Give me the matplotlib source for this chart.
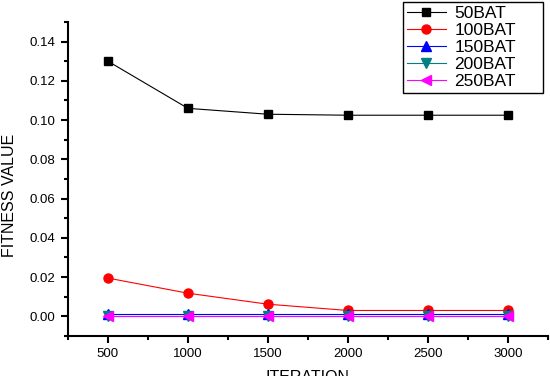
import matplotlib
matplotlib.use("Agg")
import matplotlib.pyplot as plt
from matplotlib.ticker import MultipleLocator

plt.rcParams['font.family'] = ['Liberation Sans', 'DejaVu Sans']

iterations = [500, 1000, 1500, 2000, 2500, 3000]
bat50 = [0.130, 0.106, 0.103, 0.1025, 0.1025, 0.1025]
bat100 = [0.0195, 0.0118, 0.0062, 0.0030, 0.0030, 0.0030]
bat150 = [0.0012, 0.0012, 0.0012, 0.0012, 0.0012, 0.0012]
bat200 = [0.0002, 0.0002, 0.0002, 0.0002, 0.0002, 0.0002]
bat250 = [0.0, 0.0, 0.0, 0.0, 0.0, 0.0]

fig = plt.figure(figsize=(5.5, 3.76), dpi=100)
ax = fig.add_axes([0.1236, 0.1064, 0.8724, 0.8351])

ax.plot(iterations, bat50, color='black', marker='s', ms=6, lw=0.8, label='50BAT')
ax.plot(iterations, bat100, color='red', marker='o', ms=6.5, lw=0.8, label='100BAT')
ax.plot(iterations, bat150, color='blue', marker='^', ms=6.5, lw=0.8, label='150BAT')
ax.plot(iterations, bat200, color='#008080', marker='v', ms=6.5, lw=0.8, label='200BAT')
ax.plot(iterations, bat250, color='magenta', marker='<', ms=6.5, lw=0.8, label='250BAT')

ax.set_xlim(250, 3250)
ax.set_ylim(-0.01, 0.15)
ax.set_xticks(iterations)
ax.set_yticks([0.00, 0.02, 0.04, 0.06, 0.08, 0.10, 0.12, 0.14])
ax.set_yticklabels(['0.00', '0.02', '0.04', '0.06', '0.08', '0.10', '0.12', '0.14'])
ax.xaxis.set_minor_locator(MultipleLocator(250))
ax.yaxis.set_minor_locator(MultipleLocator(0.01))
ax.tick_params(which='major', direction='out', length=5, width=1.5, labelsize=9.5, pad=4)
ax.tick_params(which='minor', direction='out', length=3, width=1.5)

for s in ['top', 'right']:
    ax.spines[s].set_visible(False)
for s in ['left', 'bottom']:
    ax.spines[s].set_linewidth(1.5)

ax.set_ylabel('FITNESS VALUE', fontsize=11.5)
ax.yaxis.set_label_coords(-0.106, 0.449)
ax.set_xlabel('ITERATION', fontsize=11.5, labelpad=7)

leg = fig.legend(loc='upper left', bbox_to_anchor=(403 / 550, 1 - 90 / 376, 140 / 550, 88 / 376),
                 mode='expand', fontsize=12.5,
                 frameon=True, fancybox=False, edgecolor='black', framealpha=1,
                 handlelength=2.2, labelspacing=0.1, borderpad=0.25, handletextpad=0.5,
                 borderaxespad=0)
leg.get_frame().set_linewidth(1.0)

fig.savefig('out.png', dpi=100)
